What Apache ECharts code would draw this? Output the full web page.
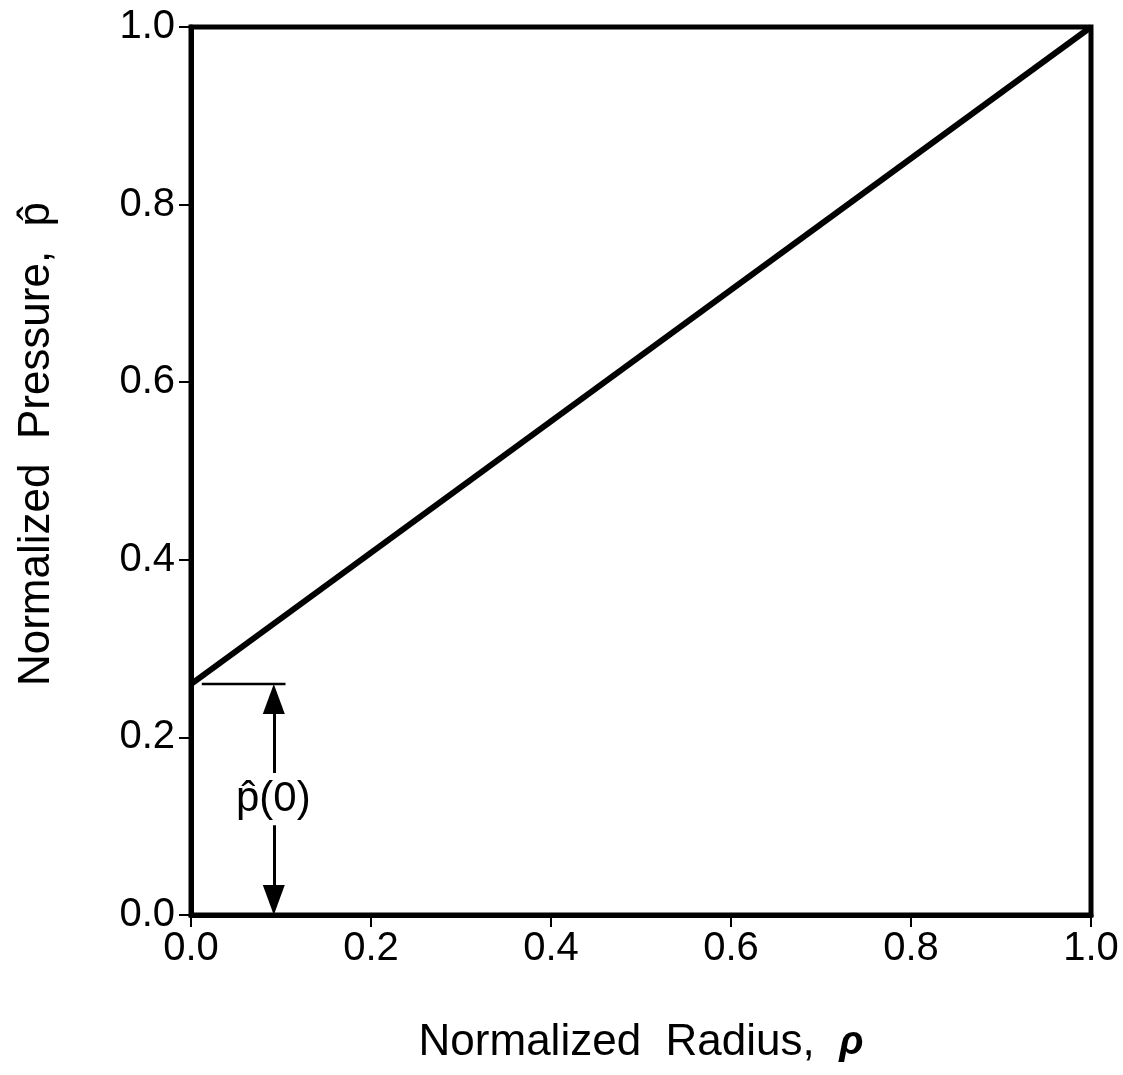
<!DOCTYPE html>
<html><head><meta charset="utf-8">
<script src="https://cdn.jsdelivr.net/npm/echarts@6/dist/echarts.min.js"></script>
<style>html,body{margin:0;padding:0;background:#fff}#c{width:1123px;height:1075px}</style>
</head><body><div id="c"></div>
<script>
const xTicks = [0.0, 0.2, 0.4, 0.6, 0.8, 1.0];
const yTicks = [0.0, 0.2, 0.4, 0.6, 0.8, 1.0];
const pressureLine = [[0.0, 0.26], [1.0, 1.0]];
const p0Marker = [[0.012, 0.26], [0.105, 0.26]];
const arrowX = 0.092;
const arrowUp = [[arrowX, 0.16], [arrowX, 0.245]];
const arrowDown = [[arrowX, 0.101], [arrowX, 0.02]];
const arrowUpTip = [[arrowX, 0.26]];
const arrowDownTip = [[arrowX, 0.0]];
const p0Label = [[arrowX, 0.13]];

const FONT = '"Liberation Sans", Arial, sans-serif';
const chart = echarts.init(document.getElementById('c'));
chart.setOption({
  animation: false,
  grid: { left: 191, right: 32, top: 27, bottom: 160, show: true, borderColor: '#000', borderWidth: 5, backgroundColor: 'transparent' },
  xAxis: {
    type: 'value', min: 0, max: 1, interval: 0.2,
    axisLine: { show: true, lineStyle: { color: '#000', width: 5 } },
    axisTick: { show: true, inside: false, length: 12, lineStyle: { color: '#000', width: 2 } },
    splitLine: { show: false },
    axisLabel: { color: '#000', fontFamily: FONT, fontSize: 40, margin: 14, formatter: v => v.toFixed(1) },
    name: '{n|Normalized  Radius,  }{r|ρ}', nameLocation: 'middle', nameGap: 106,
    nameTextStyle: { rich: { n: { fontFamily: FONT, fontSize: 44, color: '#000' }, r: { fontFamily: FONT, fontSize: 40, fontStyle: 'italic', fontWeight: 'bold', color: '#000' } } }
  },
  yAxis: {
    type: 'value', min: 0, max: 1, interval: 0.2,
    axisLine: { show: true, lineStyle: { color: '#000', width: 5 } },
    axisTick: { show: true, inside: false, length: 12, lineStyle: { color: '#000', width: 2 } },
    splitLine: { show: false },
    axisLabel: { color: '#000', fontFamily: FONT, fontSize: 40, margin: 16, formatter: v => v.toFixed(1) },
    name: 'Normalized  Pressure,  p\u0302', nameLocation: 'middle', nameGap: 132,
    nameTextStyle: { fontFamily: FONT, fontSize: 44, color: '#000', padding: [0, 0, 0, 54] }
  },
  series: [
    { type: 'line', data: pressureLine, symbol: 'none', lineStyle: { color: '#000', width: 6 }, z: 5 },
    { type: 'line', data: p0Marker, symbol: 'none', lineStyle: { color: '#000', width: 2.5 } },
    { type: 'lines', coordinateSystem: 'cartesian2d', symbol: 'none',
      lineStyle: { color: '#000', width: 3, opacity: 1 },
      data: [{ coords: arrowUp }, { coords: arrowDown }] },
    { type: 'scatter', data: arrowUpTip, symbol: 'path://M0,0 L11,30 L-11,30 Z', symbolSize: [22, 30], symbolOffset: [0, 15],
      itemStyle: { color: '#000', opacity: 1 }, z: 6 },
    { type: 'scatter', data: arrowDownTip, symbol: 'path://M-11,0 L11,0 L0,30 Z', symbolSize: [22, 30], symbolOffset: [0, -15],
      itemStyle: { color: '#000', opacity: 1 }, z: 6 },
    { type: 'scatter', data: p0Label, symbolSize: 1, itemStyle: { opacity: 0 },
      label: { show: true, position: [0, 0], align: 'center', verticalAlign: 'middle', formatter: 'p\u0302(0)', fontFamily: FONT, fontSize: 42, color: '#000', opacity: 1 } }
  ]
});
</script></body></html>
